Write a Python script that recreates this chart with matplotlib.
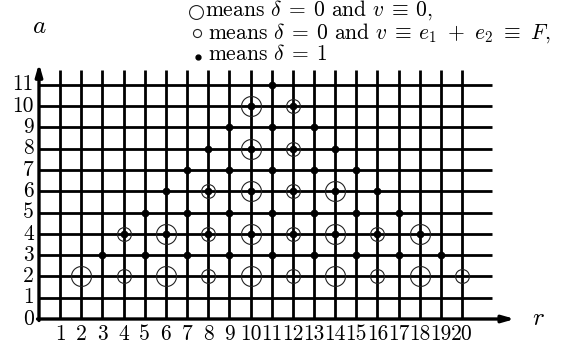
import matplotlib
matplotlib.use('Agg')
import matplotlib.pyplot as plt

plt.rcParams['mathtext.fontset'] = 'cm'
plt.rcParams['font.family'] = 'serif'
plt.rcParams['font.serif'] = ['cmr10', 'DejaVu Serif']
plt.rcParams['axes.unicode_minus'] = False

# grid range
r_ticks = list(range(1, 21))
a_ticks = list(range(0, 12))

# delta = 1 points (r, a)
dot_r = [3, 5, 7, 9, 11, 13, 15, 17, 19,
         4, 6, 8, 10, 12, 14, 16, 18,
         5, 7, 9, 11, 13, 15, 17,
         6, 8, 10, 12, 14, 16,
         7, 9, 11, 13, 15,
         8, 10, 12, 14,
         9, 11, 13,
         10, 12,
         11]
dot_a = [3] * 9 + [4] * 8 + [5] * 7 + [6] * 6 + [7] * 5 + [8] * 4 + [9] * 3 + [10] * 2 + [11]

# delta = 0, v = 0 (big circles)
big_r = [2, 6, 10, 14, 18, 6, 10, 14, 18, 10, 14, 10, 10]
big_a = [2, 2, 2, 2, 2, 4, 4, 4, 4, 6, 6, 8, 10]

# delta = 0, v = e1+e2 = F (small circles)
small_r = [4, 8, 12, 16, 20, 4, 8, 12, 16, 8, 12, 12, 12]
small_a = [2, 2, 2, 2, 2, 4, 4, 4, 4, 6, 6, 8, 10]

legend_lines = [r'means $\delta\:=\:0$ and $v\:\equiv\:0$,',
                r'means $\delta\:=\:0$ and $v\:\equiv\:e_1\ +\ e_2\ \equiv\ F$,',
                r'means $\delta\:=\:1$']

fig = plt.figure(figsize=(5.66, 3.52), dpi=100)
ax = fig.add_axes([0, 0, 1, 1])
ax.set_xlim(-39 / 21.15, 527 / 21.15)
ax.set_ylim(-33 / 21.3, 319 / 21.3)
ax.axis('off')

lw = 2.0
for r in r_ticks:
    ax.plot([r, r], [0, 11.7], color='black', lw=lw, solid_capstyle='butt')
for a in a_ticks[1:]:
    ax.plot([0, 21.4], [a, a], color='black', lw=lw, solid_capstyle='butt')

# axes with arrows
ax.annotate('', xy=(22.5, 0), xytext=(-0.07, 0),
            arrowprops=dict(arrowstyle='-|>,head_length=0.7,head_width=0.2',
                            color='black', lw=2.4, shrinkA=0, shrinkB=0))
ax.annotate('', xy=(0, 12.0), xytext=(0, -0.07),
            arrowprops=dict(arrowstyle='-|>,head_length=0.7,head_width=0.2',
                            color='black', lw=2.4, shrinkA=0, shrinkB=0))
ax.text(23.6, 0, '$r$', fontsize=18, ha='center', va='center')
ax.text(0.0, 13.7, '$a$', fontsize=18, ha='center', va='center')

for r in r_ticks:
    ax.text(r, -0.72, str(r), fontsize=15.5, ha='center', va='center')
for a in a_ticks:
    ax.text(-0.25, a, str(a), fontsize=15.5, ha='right', va='center')

ax.plot(big_r, big_a, 'o', ms=14.4, mfc='none', mec='#222222', mew=0.8)
ax.plot(small_r, small_a, 'o', ms=10, mfc='none', mec='#222222', mew=0.8)
ax.plot(dot_r, dot_a, 'o', ms=4.5, color='black')

# legend
px = lambda x: (x - 39) / 21.15
py = lambda y: (319 - y) / 21.3
ax.plot([px(196)], [py(12)], 'o', ms=10, mfc='none', mec='#222222', mew=0.8, clip_on=False)
ax.plot([px(197)], [py(33)], 'o', ms=5.8, mfc='none', mec='#222222', mew=0.8, clip_on=False)
ax.plot([px(198)], [py(57)], 'o', ms=3.5, color='black', clip_on=False)
for line, x, y in zip(legend_lines, [205, 208, 208], [10.5, 33, 54.5]):
    fig.text(x / 566, 1 - y / 352, line, fontsize=15.5, va='center')

fig.savefig('out.png', dpi=100)
